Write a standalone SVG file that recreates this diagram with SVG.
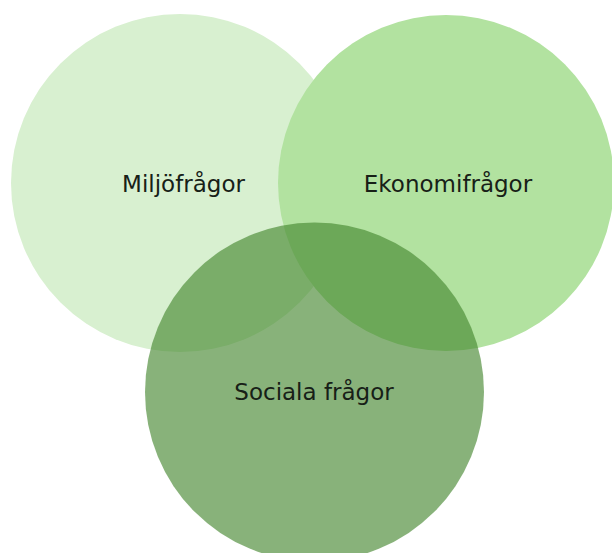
<svg xmlns="http://www.w3.org/2000/svg" width="612" height="553" viewBox="0 0 612 553">
  <style>
    .lbl { font-family: "DejaVu Sans", "Liberation Sans", sans-serif; font-size: 23px; fill: #172017; text-anchor: middle; }
  </style>
  <rect width="612" height="553" fill="#ffffff"/>
  <g id="node-miljo">
    <circle cx="180" cy="183" r="169" fill="#d8f0d0"/>
  </g>
  <g id="node-ekonomi">
    <circle cx="446" cy="183" r="168" fill="#b2e2a0"/>
  </g>
  <g id="node-sociala">
    <circle cx="314.5" cy="392" r="169.5" fill="rgb(69,135,47)" fill-opacity="0.64"/>
  </g>
  <g id="labels">
    <text class="lbl" x="183.5" y="192">Miljöfrågor</text>
    <text class="lbl" x="448" y="192">Ekonomifrågor</text>
    <text class="lbl" x="314" y="400">Sociala frågor</text>
  </g>
  <g id="connectors"></g>
</svg>
